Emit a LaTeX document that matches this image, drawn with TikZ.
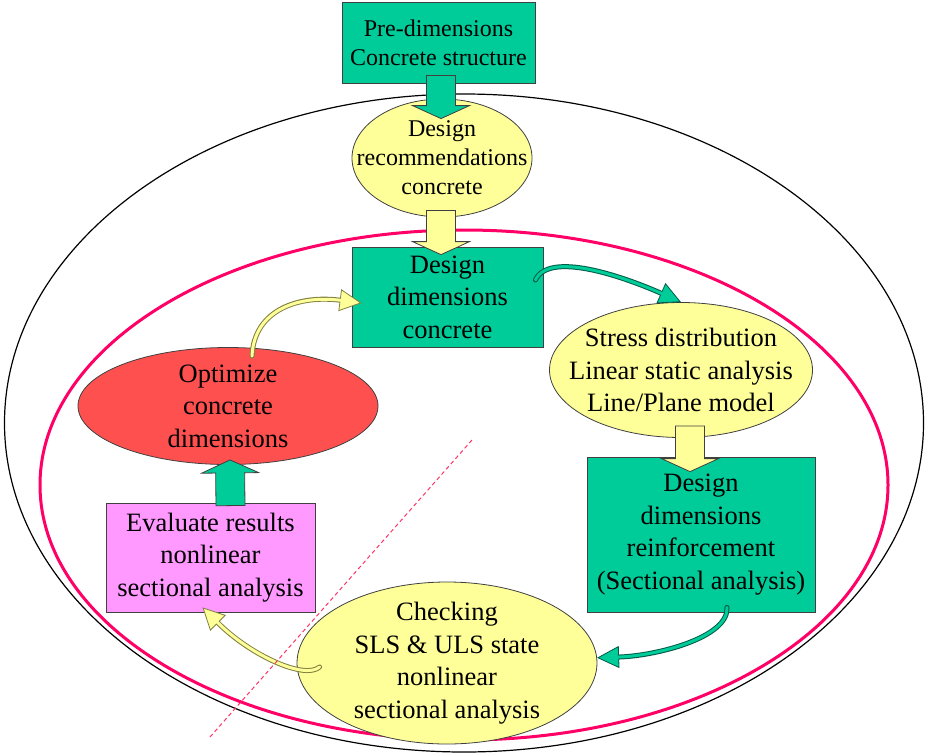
\documentclass[tikz,border=0pt]{standalone}
\usepackage{fontspec}
\setmainfont{Liberation Serif}
\usetikzlibrary{shapes.geometric,arrows.meta,calc}

\definecolor{boxgreen}{RGB}{0,204,153}
\definecolor{elyellow}{RGB}{255,255,153}
\definecolor{optred}{RGB}{255,80,80}
\definecolor{evalpink}{RGB}{255,153,255}
\definecolor{ringpink}{RGB}{255,0,102}
\definecolor{cutpink}{RGB}{255,51,102}
\definecolor{arrowdark}{RGB}{0,90,70}
\definecolor{arrowolive}{RGB}{128,128,64}

\tikzset{
  txt/.style={font=\fontsize{26.5}{32.5}\selectfont, align=center},
  smalltxt/.style={font=\fontsize{24}{29}\selectfont, align=center},
  box/.style={draw=black!75, line width=0.8pt, inner sep=0pt},
  oval/.style={ellipse, draw=black!75, line width=0.8pt, inner sep=0pt},
  greenblock/.style={draw=black!75, line width=0.8pt, fill=boxgreen},
  yellowblock/.style={draw=black!75, line width=0.8pt, fill=elyellow},
  cutline/.style={draw=cutpink, line width=1pt, dash pattern=on 4pt off 3pt}
}

% straight block arrow from #2 to the tip #3
\newcommand{\blockarrow}[3]{%
  \coordinate (ba) at ($(#3)!13pt!(#2)$);
  \draw[#1] ($(#2)!14.5pt!90:(#3)$) -- ($(ba)!14.5pt!90:(#3)$) -- ($(ba)!28.5pt!90:(#3)$)
    -- (#3) -- ($(ba)!28.5pt!-90:(#3)$) -- ($(ba)!14.5pt!-90:(#3)$) -- ($(#2)!14.5pt!-90:(#3)$) -- cycle;}

% curved band arrow: outline colour, fill colour, path
\newcommand{\bandarrow}[3]{%
  \draw[line width=5pt, line cap=round, draw=#1, -{Triangle[length=22pt, width=22pt, line width=0.8pt, fill=#2]}] #3;
  \draw[line width=3pt, line cap=round, draw=#2, shorten >=21pt] #3;}

\begin{document}
\begin{tikzpicture}[x=1pt, y=-1pt]
\useasboundingbox (0,0) rectangle (926,755);

% rings
\draw[black, line width=1.2pt] (464,423) ellipse [x radius=459.5, y radius=329];
\draw[ringpink, line width=3pt] (464,485) ellipse [x radius=424, y radius=255];

% nodes
\node[box, fill=boxgreen, smalltxt, minimum width=193pt, minimum height=81pt] (pre) at (438.5,42.5) {Pre-dimensions\\Concrete structure};
\node[oval, fill=elyellow, minimum width=180pt, minimum height=118pt, label={[smalltxt]center:Design\\recommendations\\concrete}] (rec) at (442,158) {};
\node[box, fill=boxgreen, txt, minimum width=191pt, minimum height=100pt] (dimconc) at (447.5,297) {Design\\dimensions\\concrete};
\node[oval, fill=elyellow, minimum width=263pt, minimum height=135pt, label={[txt]center:Stress distribution\\Linear static analysis\\Line/Plane model}] (stress) at (681,370) {};
\node[box, fill=boxgreen, txt, minimum width=228pt, minimum height=155pt] (reinf) at (701,534.5) {Design\\dimensions\\reinforcement\\(Sectional analysis)};
\node[oval, fill=elyellow, minimum width=300pt, minimum height=162pt, label={[txt]center:Checking\\SLS \& ULS state\\nonlinear\\sectional analysis}] (check) at (447,663) {};
\node[box, fill=evalpink, txt, minimum width=209pt, minimum height=109pt] (eval) at (210.5,557.5) {Evaluate results\\nonlinear\\sectional analysis};
\node[oval, fill=optred, minimum width=300pt, minimum height=117pt, label={[txt]center:Optimize\\concrete\\dimensions}] (opt) at (228,406) {};

% block arrows
\coordinate (a1s) at ($(pre.south)+(2.5,-8)$);
\coordinate (a1t) at ($(rec.north)+(-1,20)$);
\coordinate (a2s) at ($(rec.south)+(-1,-7)$);
\coordinate (a2t) at ($(dimconc.north)+(-6.5,8)$);
\coordinate (a3s) at ($(stress.south)+(9,-12)$);
\coordinate (a3t) at ($(reinf.north)+(-11,15)$);
\coordinate (a4s) at ($(eval.north)+(20,3)$);
\coordinate (a4t) at ($(opt.south)+(2,-5)$);
\blockarrow{greenblock}{a1s}{a1t}
\blockarrow{yellowblock}{a2s}{a2t}
\blockarrow{yellowblock}{a3s}{a3t}
\blockarrow{greenblock}{a4s}{a4t}

% curved arrows
\bandarrow{arrowdark}{boxgreen}{($(dimconc.east)+(-8,-17)$) .. controls +(15,-32) and +(-45,-20) .. (stress.north)}
\bandarrow{arrowdark}{boxgreen}{($(reinf.south)+(26,-5)$) .. controls +(2,30) and +(60,-2) .. (check.2)}
\bandarrow{arrowolive}{elyellow}{($(check.west)+(23,4)$) .. controls +(-15,13) and +(48,48) .. ($(eval.south)+(-8,-5)$)}
\bandarrow{arrowolive}{elyellow}{($(opt.north)+(24,9)$) .. controls +(2,-47) and +(-62,-8) .. ($(dimconc.west)+(10,6)$)}

\draw[cutline] (210,737) -- (472,440);
\end{tikzpicture}
\end{document}
